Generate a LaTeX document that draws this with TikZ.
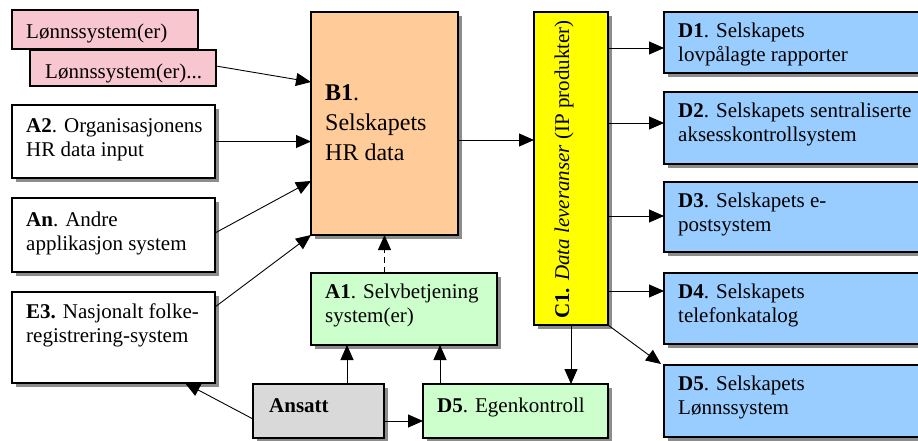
\documentclass[tikz,border=0pt]{standalone}
\usepackage{fontspec}
\setmainfont{Liberation Serif}
\usetikzlibrary{arrows.meta,calc,shadows}

\definecolor{boxblue}{RGB}{153,204,255}
\definecolor{boxgreen}{RGB}{204,255,204}
\definecolor{boxorange}{RGB}{255,204,153}
\definecolor{boxgrey}{RGB}{217,217,217}
\definecolor{boxpink}{RGB}{248,198,206}
\definecolor{boxyellow}{RGB}{255,255,0}

\begin{document}
\begin{tikzpicture}[x=1pt,y=-1pt,
  box/.style={draw=black, line width=1.1pt, inner sep=0pt, outer sep=0pt, rectangle},
  shadowed/.style={drop shadow={shadow xshift=4pt, shadow yshift=-4pt, fill=black!45, opacity=1}},
  lbl/.style={anchor=north west, inner sep=0pt, align=left, font=\fontsize{21}{24}\selectfont},
  link/.style={line width=0.9pt, -{Triangle[length=15pt,width=13pt]}},
]
\useasboundingbox (0,0) rectangle (918,441);

% payroll sources (stacked)
\node[box, fill=boxpink, minimum width=186pt, minimum height=39pt] (L1) at (105,29.5) {};
\node[box, fill=boxpink, minimum width=186pt, minimum height=36pt] (L2) at (123,68) {};

% input systems on the left
\node[box, shadowed, fill=white, minimum width=203pt, minimum height=73pt] (A2) at (113.5,141.5) {};
\node[box, shadowed, fill=white, minimum width=203pt, minimum height=74pt] (An) at (113.5,235) {};
\node[box, shadowed, fill=white, minimum width=203pt, minimum height=91pt] (E3) at (113.5,337.5) {};

% central HR data store
\node[box, shadowed, fill=boxorange, minimum width=147pt, minimum height=223pt] (B1) at (384.5,123.5) {};

% self service, employee, self control
\node[box, shadowed, fill=boxgreen, minimum width=186pt, minimum height=72pt] (A1) at (404,309) {};
\node[box, shadowed, fill=boxgrey, minimum width=131pt, minimum height=54pt] (Ans) at (318.5,411) {};
\node[box, shadowed, fill=boxgreen, minimum width=185pt, minimum height=54pt] (D5e) at (515.5,411) {};

% data deliveries
\node[box, shadowed, fill=boxyellow, minimum width=74pt, minimum height=313pt] (C1) at (571,168.5) {};

% receiving systems on the right
\node[box, shadowed, fill=boxblue, minimum width=266pt, minimum height=61pt] (D1) at (797,42.5) {};
\node[box, shadowed, fill=boxblue, minimum width=266pt, minimum height=72pt] (D2) at (797,128) {};
\node[box, shadowed, fill=boxblue, minimum width=266pt, minimum height=70pt] (D3) at (797,217) {};
\node[box, shadowed, fill=boxblue, minimum width=266pt, minimum height=71pt] (D4) at (797,308.5) {};
\node[box, shadowed, fill=boxblue, minimum width=266pt, minimum height=72pt] (D5) at (797,401) {};

% labels
\node[lbl] (l1t) at ($(L1.north west)+(14,11.2)$) {\strut Lønnssystem(er)};
\node[lbl] (l2t) at ($(L2.north west)+(15,11.2)$) {\strut Lønnssystem(er)...};
\node[lbl] (a2t) at ($(A2.north west)+(14,10.2)$) {\strut\textbf{A2}. Organisasjonens\\HR data input};
\node[lbl] (ant) at ($(An.north west)+(14,11.2)$) {\strut\textbf{An}. Andre\\applikasjon system};
\node[lbl] (e3t) at ($(E3.north west)+(14,9.2)$) {\strut\textbf{E3.} Nasjonalt folke-\\registrering-system};
\node[lbl, font=\fontsize{24}{30}\selectfont] (b1t) at ($(B1.north west)+(14,67)$) {\strut\textbf{B1}.\\Selskapets\\HR data};
\node[lbl] (a1t) at ($(A1.north west)+(14,8.2)$) {\strut\textbf{A1}. Selvbetjening\\system(er)};
\node[lbl] (anst) at ($(Ans.north west)+(16,11.2)$) {\strut\textbf{Ansatt}};
\node[lbl] (d5et) at ($(D5e.north west)+(14,11.2)$) {\strut\textbf{D5}. Egenkontroll};
\node[rotate=90, inner sep=0pt, font=\fontsize{21}{24}\selectfont] (c1t) at (564,169.5)
  {\textbf{C1.} \textit{Data leveranser} (IP produkter)};
\node[lbl] (d1t) at ($(D1.north west)+(14,8.2)$) {\strut\textbf{D1}. Selskapets\\lovpålagte rapporter};
\node[lbl] (d2t) at ($(D2.north west)+(14,8.2)$) {\strut\textbf{D2}. Selskapets sentraliserte\\aksesskontrollsystem};
\node[lbl] (d3t) at ($(D3.north west)+(14,8.2)$) {\strut\textbf{D3}. Selskapets e-\\postsystem};
\node[lbl] (d4t) at ($(D4.north west)+(14,8.2)$) {\strut\textbf{D4}. Selskapets\\telefonkatalog};
\node[lbl] (d5t) at ($(D5.north west)+(14,8.2)$) {\strut\textbf{D5}. Selskapets\\Lønnssystem};

% inputs into B1
\draw[link] ($(L2.east)+(0,-2)$) -- ($(B1.north west)+(0,70)$);
\draw[link] (A2.east) -- (A2.east -| B1.west);
\draw[link] ($(An.east)+(0,-2)$) -- ($(B1.north west)+(0,169)$);
\draw[link] ($(E3.north east)+(0,15)$) -- (B1.south west);
\draw[link, dash pattern=on 6pt off 4pt] (B1.south |- A1.north) -- (B1.south);

% employee and self control
\draw[link] ($(Ans.west)+(0,8)$) -- ($(E3.south west)+(173,0)$);
\coordinate (ansup) at ($(Ans.north west)+(94,0)$);
\draw[link] (ansup) -- (ansup |- A1.south);
\coordinate (d5up) at ($(D5e.north west)+(17,0)$);
\draw[link] (d5up) -- (d5up |- A1.south);
\draw[link] ($(Ans.east)+(0,10)$) -- ($(D5e.west)+(0,10)$);

% B1 to C1 and deliveries
\coordinate (bc) at ($(B1.east)+(0,16.5)$);
\draw[link] (bc) -- (bc -| C1.west);
\draw[link] (C1.south) -- (C1.south |- D5e.north);
\coordinate (d1in) at ($(D1.west)+(0,5.5)$);
\coordinate (d2in) at ($(D2.west)+(0,-5)$);
\coordinate (d3in) at ($(D3.west)+(0,-1)$);
\coordinate (d4in) at ($(D4.west)+(0,-17.5)$);
\draw[link] (d1in -| C1.east) -- (d1in);
\draw[link] (d2in -| C1.east) -- (d2in);
\draw[link] (d3in -| C1.east) -- (d3in);
\draw[link] (d4in -| C1.east) -- (d4in);
\draw[link] (C1.south east) -- ($(D5.north west)+(-3,-1)$);
\end{tikzpicture}
\end{document}
